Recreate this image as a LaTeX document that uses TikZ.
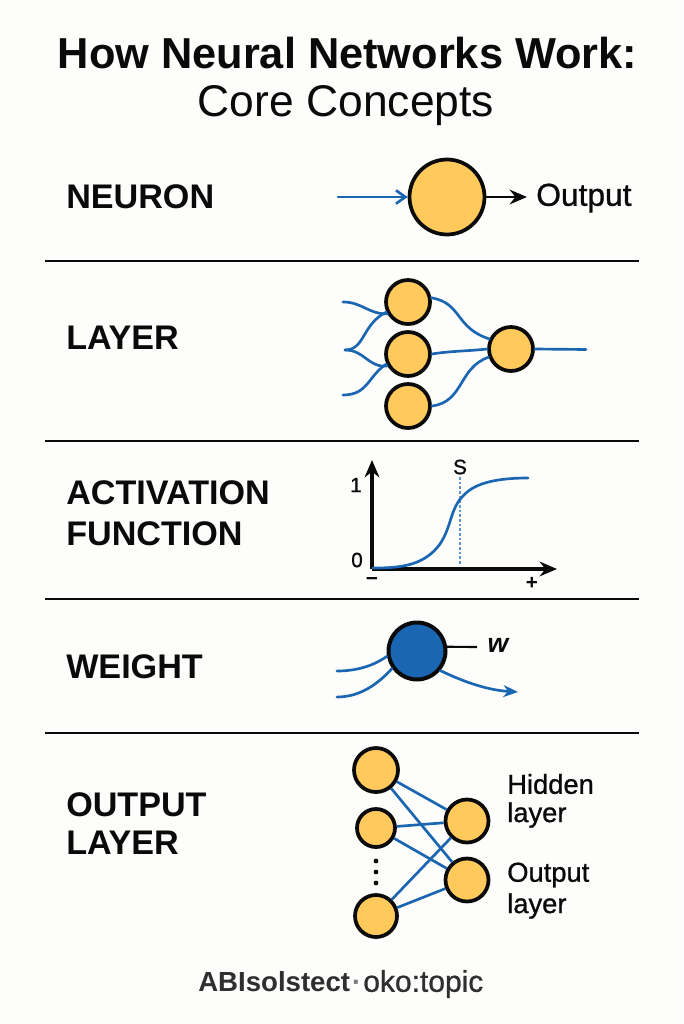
\documentclass[tikz,border=0pt]{standalone}
\usepackage{fontspec}
\setmainfont{Liberation Sans}
\newfontfamily\medfont[FakeBold=0.9]{Liberation Sans}
\usetikzlibrary{arrows.meta}
\definecolor{paper}{HTML}{FDFDFB}
\definecolor{nyellow}{HTML}{FFC95C}
\definecolor{nblue}{HTML}{1B66B3}
\definecolor{ink}{HTML}{0A0A0A}
\tikzset{
  x=0.75pt,y=-0.75pt,
  neuron/.style={circle,draw=ink,fill=nyellow,line width=2.8pt,inner sep=0pt,minimum size=#1*0.75pt},
  wneuron/.style={circle,draw=ink,fill=nblue,line width=3pt,inner sep=0pt,minimum size=#1*0.75pt},
  wire/.style={draw=nblue,line width=2pt,line cap=round},
  rulebar/.style={draw=ink,line width=1.1pt},
  axisline/.style={draw=ink,line width=2.5pt,-{Stealth[length=13pt,width=11pt]}},
  heading/.style={anchor=west,inner sep=0pt,font=\fontsize{25.6}{25.6}\selectfont\bfseries,text=ink},
  side/.style={anchor=west,inner sep=0pt,font=\fontsize{20.5}{20.5}\selectfont\medfont,text=ink},
  tick/.style={inner sep=0pt,font=\fontsize{15.5}{15.5}\selectfont\medfont,text=ink},
  dotmark/.style={circle,fill=ink,inner sep=0pt,minimum size=3.6pt},
}
\begin{document}
\begin{tikzpicture}
\fill[paper] (0,0) rectangle (683,1024);
\useasboundingbox (0,0) rectangle (683,1024);
% title
\node[anchor=center,inner sep=0pt,text=ink,font=\fontsize{32.5}{32.5}\selectfont\bfseries] (title1) at (347.5,53) {How Neural Networks Work:};
\node[anchor=center,inner sep=0pt,text=ink,font=\fontsize{33.3}{33.3}\selectfont] (title2) at (346,106) {Core Concepts};
% rules
\foreach \n/\y in {r1/261,r2/441,r3/599,r4/733}{
  \coordinate (\n a) at (45,\y); \coordinate (\n b) at (639,\y);
  \draw[rulebar] (\n a) -- (\n b);
}
% headings
\node[heading] (h1) at (66,197) {NEURON};
\node[heading] (h2) at (66,338) {LAYER};
\node[heading] (h3) at (66,493) {ACTIVATION};
\node[heading] (h3b) at (66,534) {FUNCTION};
\node[heading] (h4) at (66,667) {WEIGHT};
\node[heading] (h5) at (66,805) {OUTPUT};
\node[heading] (h5b) at (66,843) {LAYER};
% neuron
\node[neuron=75] (n) at (447,197) {};
\coordinate (nin) at (338,197);
\node[side,font=\fontsize{23.8}{23.8}\selectfont\medfont] (nout) at (536,198) {Output};
\coordinate (noutc) at (527,197);
\draw[wire,-{Straight Barb[length=7pt,width=10pt]}] (nin) -- (n.west);
\draw[draw=ink,line width=2pt,-{Stealth[length=13pt,width=11pt]}] (n.east) -- (noutc);
% layer
\node[neuron=44] (l1) at (408,302) {};
\node[neuron=44] (l2) at (408,354) {};
\node[neuron=44] (l3) at (408,406) {};
\node[neuron=44] (l4) at (511,349) {};
\coordinate (la) at (343,302);
\coordinate (lb) at (345,350);
\coordinate (lc) at (343,395);
\coordinate (ld) at (586,349.5);
\draw[wire] (la) .. controls (362,302) and (368,314) .. (l1.210);
\draw[wire] (lb) .. controls (365,350) and (362,324) .. (l1.205);
\draw[wire] (lb) .. controls (365,350) and (368,368) .. (l2.210);
\draw[wire] (lc) .. controls (368,395) and (368,376) .. (l2.205);
\draw[wire] (l1.10) .. controls (462,303) and (455,328) .. (l4.155);
\draw[wire] (l2.east) .. controls (450,351) and (470,351) .. (l4.west);
\draw[wire] (l3.east) .. controls (464,402) and (458,368) .. (l4.200);
\draw[wire] (l4.east) -- (ld);
% activation
\coordinate (o) at (372,569);
\coordinate (ytop) at (372,460);
\coordinate (xend) at (557,569);
\draw[axisline] (o) -- (ytop);
\draw[axisline] (o) -- (xend);
\node[tick] (one) at (356,485) {1};
\node[tick] (zero) at (357,560) {0};
\node[tick,font=\fontsize{15.5}{15.5}\selectfont\bfseries] (minus) at (372,581) {\textminus};
\node[tick,font=\fontsize{15.5}{15.5}\selectfont\bfseries] (plus) at (532,583) {+};
\node[tick] (s) at (460,467) {S};
\coordinate (sb) at (460,565);
\draw[nblue!70,line width=0.9pt,dash pattern=on 2pt off 1.5pt] (s.south) ++(0,2.5) -- (sb);
\coordinate (c0) at (373,568);
\coordinate (c1) at (528,478);
\draw[wire] (c0) .. controls (400,568) and (424,566) .. (440,544)
  .. controls (452,526) and (450,508) .. (464,495)
  .. controls (476,482) and (500,478) .. (c1);
% weight
\node[wneuron=57] (w) at (417,651) {};
\coordinate (wt) at (477,647);
\node[inner sep=0pt,font=\fontsize{20}{20}\selectfont\bfseries\itshape,text=ink] (wl) at (498,645) {w};
\draw[draw=ink,line width=1.6pt] (w.8) -- (wt);
\coordinate (wa) at (337,671);
\coordinate (wb) at (337,697);
\coordinate (wc) at (518,692);
\draw[wire] (wa) .. controls (360,671) and (376,664) .. (w.190);
\draw[wire] (wb) .. controls (360,697) and (378,684) .. (w.215);
\draw[wire,-{Stealth[length=11pt,width=9pt]}] (w.-40) .. controls (460,680) and (485,690) .. (wc);
% output layer
\node[neuron=44] (a1) at (376,770) {};
\node[neuron=38] (a2) at (376,828) {};
\node[neuron=42] (a3) at (376,916) {};
\node[neuron=43] (b1) at (467,821) {};
\node[neuron=43] (b2) at (467,880) {};
\node[dotmark] (d1) at (376,861) {};
\node[dotmark] (d2) at (376,872) {};
\node[dotmark] (d3) at (376,883) {};
\foreach \s/\t in {a1/b1,a1/b2,a2/b1,a2/b2,a3/b1,a3/b2}
  \draw[wire,line cap=butt] (\s) -- (\t);
\node[side] (t1) at (507,784) {Hidden};
\node[side] (t2) at (507,815) {layer};
\node[side] (t3) at (507,875) {Output};
\node[side] (t4) at (507,906) {layer};
% footer
\node[anchor=west,inner sep=0pt,text=ink!85] (f) at (198,984) {\fontsize{20.7}{20.7}\selectfont\bfseries ABIsolstect\hspace{1.5pt}\textcolor{ink!55}{·}\hspace{1.5pt}{\fontsize{22.5}{22.5}\selectfont\mdseries\medfont oko:topic}};
\end{tikzpicture}
\end{document}
